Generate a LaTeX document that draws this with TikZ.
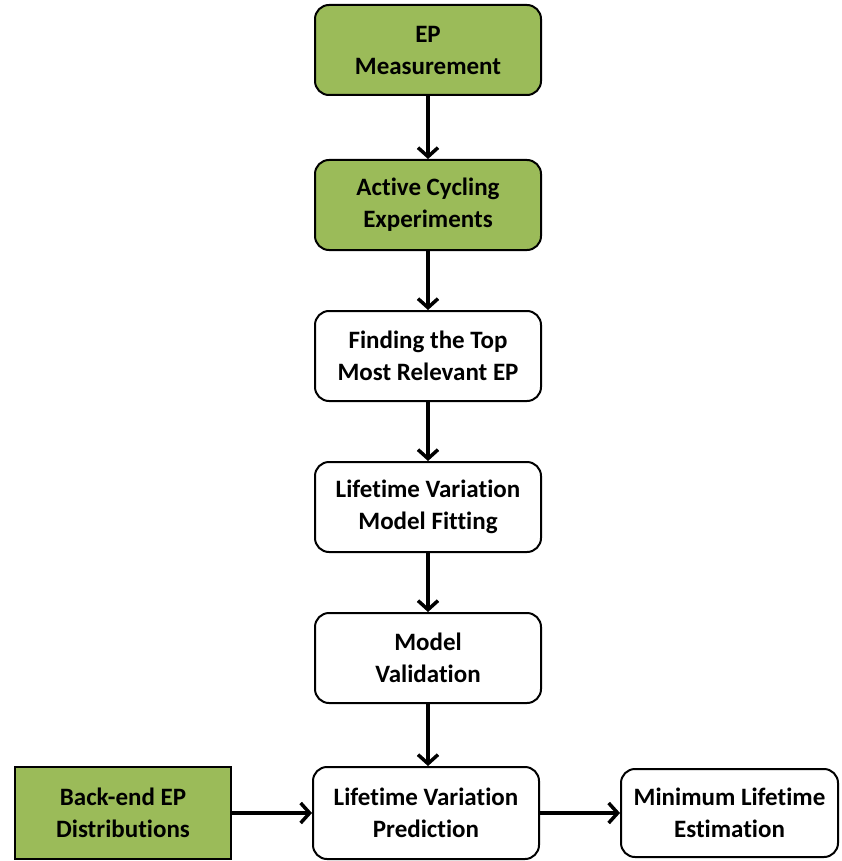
\documentclass[tikz,border=0pt]{standalone}
\usepackage{fontspec}
\setmainfont{Carlito}[Ligatures=NoCommon]
\usepackage{xcolor}
\usetikzlibrary{arrows.meta, positioning}
\definecolor{officegreen}{RGB}{155, 187, 89}

\begin{document}
\begin{tikzpicture}[
    x=1pt, y=1pt,
    node distance=59pt and 80pt,
    font=\fontsize{25}{32}\selectfont\bfseries,
    % Styles
    stepbox/.style={draw=black, fill=#1, rounded corners=14pt, align=center, minimum width=226pt, minimum height=90pt, line width=2pt, inner sep=2pt},
    inputbox/.style={draw=black, fill=officegreen, align=center, minimum width=216pt, minimum height=92pt, line width=2pt, inner sep=2pt},
    arrow/.style={-{Straight Barb[length=9pt, width=20pt, line width=3.5pt]}, line width=3.5pt, black}
]
    \useasboundingbox (0,0) rectangle (841,-861);

    % Main chain
    \node (meas) [stepbox=officegreen] at (428,-50) {EP\\Measurement};
    \node (cycl) [stepbox=officegreen, below=63pt of meas] {Active Cycling\\Experiments};
    \node (topep) [stepbox=white, below=of cycl] {Finding the Top\\Most Relevant EP};
    \node (fit) [stepbox=white, below=of topep] {Lifetime Variation\\Model Fitting};
    \node (valid) [stepbox=white, below=of fit] {Model\\Validation};
    \node (pred) [stepbox=white, minimum height=92pt, below=62pt of valid, xshift=-2pt] {Lifetime Variation\\Prediction};

    % Side boxes
    \node (backend) [inputbox, left=of pred] {Back-end EP\\Distributions};
    \node (minlife) [stepbox=white, minimum width=217pt, minimum height=88pt, right=of pred] {Minimum Lifetime\\Estimation};

    % Arrows
    \draw [arrow] (meas) -- (cycl);
    \draw [arrow] (cycl) -- (topep);
    \draw [arrow] (topep) -- (fit);
    \draw [arrow] (fit) -- (valid);
    \draw [arrow] (valid.south) -- (valid.south |- pred.north);
    \draw [arrow] (backend) -- (pred);
    \draw [arrow] (pred) -- (minlife);

\end{tikzpicture}
\end{document}
